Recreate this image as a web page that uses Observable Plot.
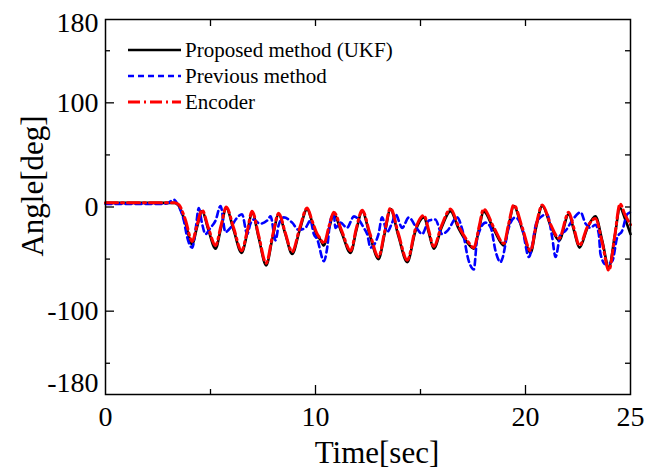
<!DOCTYPE html>
<html><head><meta charset="utf-8">
<script src="https://cdn.jsdelivr.net/npm/d3@7"></script>
<script src="https://cdn.jsdelivr.net/npm/@observablehq/plot@0.6"></script>
<style>
body{margin:0;background:#fff}
#chart{position:relative;width:648px;height:472px}
</style>
</head><body><div id="chart"></div>
<script>
// Proposed method (UKF) — black solid
const ukfTime  = [0, 3.3, 3.5, 3.8, 4.13, 4.35, 4.6, 4.9, 5.24, 5.5, 5.75, 6.1, 6.48, 6.75, 6.98, 7.3, 7.65, 7.95, 8.25, 8.55, 8.89, 9.25, 9.6, 9.85, 10.08, 10.22, 10.4, 10.65, 10.87, 11.25, 11.67, 11.95, 12.22, 12.6, 13.0, 13.3, 13.57, 13.95, 14.37, 14.76, 15.16, 15.4, 15.63, 16.0, 16.43, 16.8, 17.22, 17.54, 17.8, 18.0, 18.5, 18.97, 19.2, 19.44, 19.85, 20.24, 20.5, 20.8, 21.2, 21.6, 22.06, 22.3, 22.57, 22.95, 23.33, 23.65, 23.97, 24.25, 24.5, 24.75, 25];
const ukfAngle = [4, 4, 1, -15, -36, -20, -4, -22, -40, -20, -1, -22, -44, -25, -5, -30, -56, -30, -7, -25, -45, -22, -2, -15, -28, -31, -37, -20, -7, -25, -44, -22, -4, -28, -50, -25, -2, -28, -53, -23, -10, -25, -40, -20, -4, -20, -34, -40, -20, -4, -22, -37, -18, 1, -22, -44, -20, 1, -18, -32, -7, -22, -39, -20, -9, -32, -58, -28, -1, -12, -26];

// Previous method — blue dashed
const prevTime  = [0, 2.8, 3.0, 3.25, 3.45, 3.73, 3.89, 4.13, 4.3, 4.44, 4.6, 4.76, 5.0, 5.24, 5.48, 5.71, 5.95, 6.2, 6.5, 6.75, 6.9, 7.06, 7.35, 7.7, 7.86, 8.1, 8.25, 8.49, 8.89, 9.2, 9.52, 9.76, 9.92, 10.08, 10.4, 10.55, 10.71, 10.87, 10.95, 11.19, 11.5, 11.83, 12.05, 12.3, 12.46, 12.62, 13.0, 13.17, 13.41, 13.65, 13.81, 14.13, 14.44, 14.84, 15.08, 15.4, 15.7, 16.03, 16.27, 16.75, 16.98, 17.3, 17.54, 17.7, 18.1, 18.35, 18.57, 18.81, 18.89, 19.2, 19.52, 19.84, 20.16, 20.56, 21.03, 21.27, 21.43, 21.67, 21.9, 22.22, 22.62, 22.86, 23.1, 23.33, 23.49, 23.57, 23.81, 24.13, 24.37, 24.6, 24.84, 25];
const prevAngle = [3, 3, 4, 7, 2, -13, -29, -39, -20, -1, -16, -26, -20, -13, 1, -24, -20, -12, -7, -26, -16, -12, -16, -13, -9, -32, -17, -10, -15, -22, -20, -13, -26, -31, -52, -40, -13, -7, -20, -15, -20, -9, -12, -20, -26, -39, -26, -10, -24, -15, -7, -20, -10, -21, -26, -13, -12, -26, -23, -10, -21, -52, -60, -30, -15, -20, -42, -53, -50, -20, -10, -20, -48, -13, -7, -29, -48, -26, -23, -13, -5, -16, -20, -17, -26, -45, -55, -52, -29, -23, -7, -5];

// Encoder — red dash-dot
const encTime  = [0, 3.3, 3.5, 3.8, 4.13, 4.35, 4.6, 4.9, 5.24, 5.5, 5.75, 6.1, 6.48, 6.75, 6.98, 7.3, 7.65, 7.95, 8.25, 8.55, 8.89, 9.25, 9.6, 9.85, 10.08, 10.22, 10.4, 10.65, 10.87, 11.25, 11.67, 11.95, 12.22, 12.6, 13.0, 13.3, 13.57, 13.95, 14.37, 14.76, 15.16, 15.4, 15.63, 16.0, 16.43, 16.8, 17.22, 17.54, 17.8, 18.0, 18.5, 18.97, 19.2, 19.44, 19.85, 20.24, 20.5, 20.8, 21.2, 21.6, 22.06, 22.3, 22.57, 22.95, 23.33, 23.65, 23.97, 24.25, 24.5, 24.75, 25];
const encAngle = [4, 4, 2, -12, -33, -18, -3, -20, -37, -18, 0, -20, -42, -23, -4, -28, -54, -28, -6, -24, -43, -20, -1, -14, -26, -30, -35, -18, -5, -23, -42, -20, -3, -26, -48, -23, -1, -26, -51, -21, -8, -23, -38, -18, -2, -18, -32, -39, -18, -2, -20, -35, -16, 2, -20, -42, -18, 2, -17, -30, -5, -20, -37, -19, -11, -34, -61, -28, 3, -8, -17];

const xLabelTicks = [0, 10, 20, 25];
const xTicksMajor = [10, 20];
const xTicksMinor = [5, 15];
const yLabelTicks = [-100, 0, 100];
const yTicksMajor = [-100, 0, 100];
const yTicksMinor = [-150, -50, 50, 150];
const legendLabels = ["Proposed method (UKF)", "Previous method", "Encoder"];

const toRows = (ts, vs) => ts.map((t, i) => ({t, v: vs[i]}));
const ukf = toRows(ukfTime, ukfAngle);
const prev = toRows(prevTime, prevAngle);
const enc = toRows(encTime, encAngle);

const FONT = "'Liberation Serif', 'Times New Roman', serif";
const blank = () => "";
const plain = d => String(d);

const plot = Plot.plot({
  width: 648, height: 472,
  marginLeft: 105, marginRight: 18, marginTop: 19, marginBottom: 78,
  style: {fontFamily: FONT, background: "#fff", color: "#000"},
  x: {domain: [0, 25]},
  y: {domain: [-180, 180]},
  marks: [
    Plot.line(ukf, {x: "t", y: "v", stroke: "#000", strokeWidth: 2.6, curve: "monotone-x"}),
    Plot.line(prev, {x: "t", y: "v", stroke: "#0000ff", strokeWidth: 2.6, strokeDasharray: "6,4", curve: "monotone-x"}),
    Plot.line(enc, {x: "t", y: "v", stroke: "#ff0000", strokeWidth: 3, strokeDasharray: "12,4,2,4", curve: "monotone-x"}),
    Plot.frame({stroke: "#000", strokeWidth: 1.5}),
    // inward ticks
    Plot.axisY(yTicksMajor, {anchor: "left", tickSize: -9, tickFormat: blank, label: null, strokeWidth: 1.3}),
    Plot.axisY(yTicksMinor, {anchor: "left", tickSize: -5, tickFormat: blank, label: null, strokeWidth: 1.3}),
    Plot.axisY(yTicksMajor.concat(yTicksMinor), {anchor: "right", tickSize: -6, tickFormat: blank, label: null, strokeWidth: 1.3}),
    Plot.axisX(xTicksMajor, {anchor: "bottom", tickSize: -9, tickFormat: blank, label: null, strokeWidth: 1.3}),
    Plot.axisX(xTicksMinor, {anchor: "bottom", tickSize: -5, tickFormat: blank, label: null, strokeWidth: 1.3}),
    Plot.axisX(xTicksMajor.concat(xTicksMinor), {anchor: "top", tickSize: -6, tickFormat: blank, label: null, strokeWidth: 1.3}),
    // tick labels
    Plot.axisY(yLabelTicks, {anchor: "left", tickSize: 0, tickPadding: 7, fontSize: 28, label: null, tickFormat: plain}),
    Plot.axisY([180], {anchor: "left", tickSize: 0, tickPadding: 7, fontSize: 28, label: null, dy: 4, tickFormat: plain}),
    Plot.axisY([-180], {anchor: "left", tickSize: 0, tickPadding: 7, fontSize: 28, label: null, dy: -11, tickFormat: plain}),
    Plot.axisX(xLabelTicks, {anchor: "bottom", tickSize: 0, tickPadding: 12, fontSize: 28, label: null, tickFormat: plain})
  ]
});

document.getElementById("chart").appendChild(plot);

const svg = d3.select(plot);
svg.selectAll("text").style("font-family", FONT);

// axis titles
svg.append("text").attr("transform", "translate(43,186) rotate(-90)")
  .attr("text-anchor", "middle").attr("font-size", 31).style("font-family", FONT)
  .attr("fill", "#000").text("Angle[deg]");
svg.append("text").attr("x", 377).attr("y", 463)
  .attr("text-anchor", "middle").attr("font-size", 31).style("font-family", FONT)
  .attr("fill", "#000").text("Time[sec]");

// legend
const legStyles = [
  {stroke: "#000", dash: null, w: 2.6},
  {stroke: "#0000ff", dash: "6,4", w: 2.6},
  {stroke: "#ff0000", dash: "12,4,2,4", w: 3}
];
const lg = svg.append("g").attr("text-anchor", "start");
legendLabels.forEach((lab, i) => {
  const y = 50 + i * 26;
  const s = legStyles[i];
  lg.append("line").attr("x1", 128).attr("x2", 181).attr("y1", y).attr("y2", y)
    .attr("stroke", s.stroke).attr("stroke-width", s.w).attr("stroke-dasharray", s.dash);
  lg.append("text").attr("x", 185).attr("y", y + 7).attr("font-size", 21)
    .attr("text-anchor", "start").style("font-family", FONT)
    .attr("fill", "#000").text(lab);
});
</script>
</body></html>
